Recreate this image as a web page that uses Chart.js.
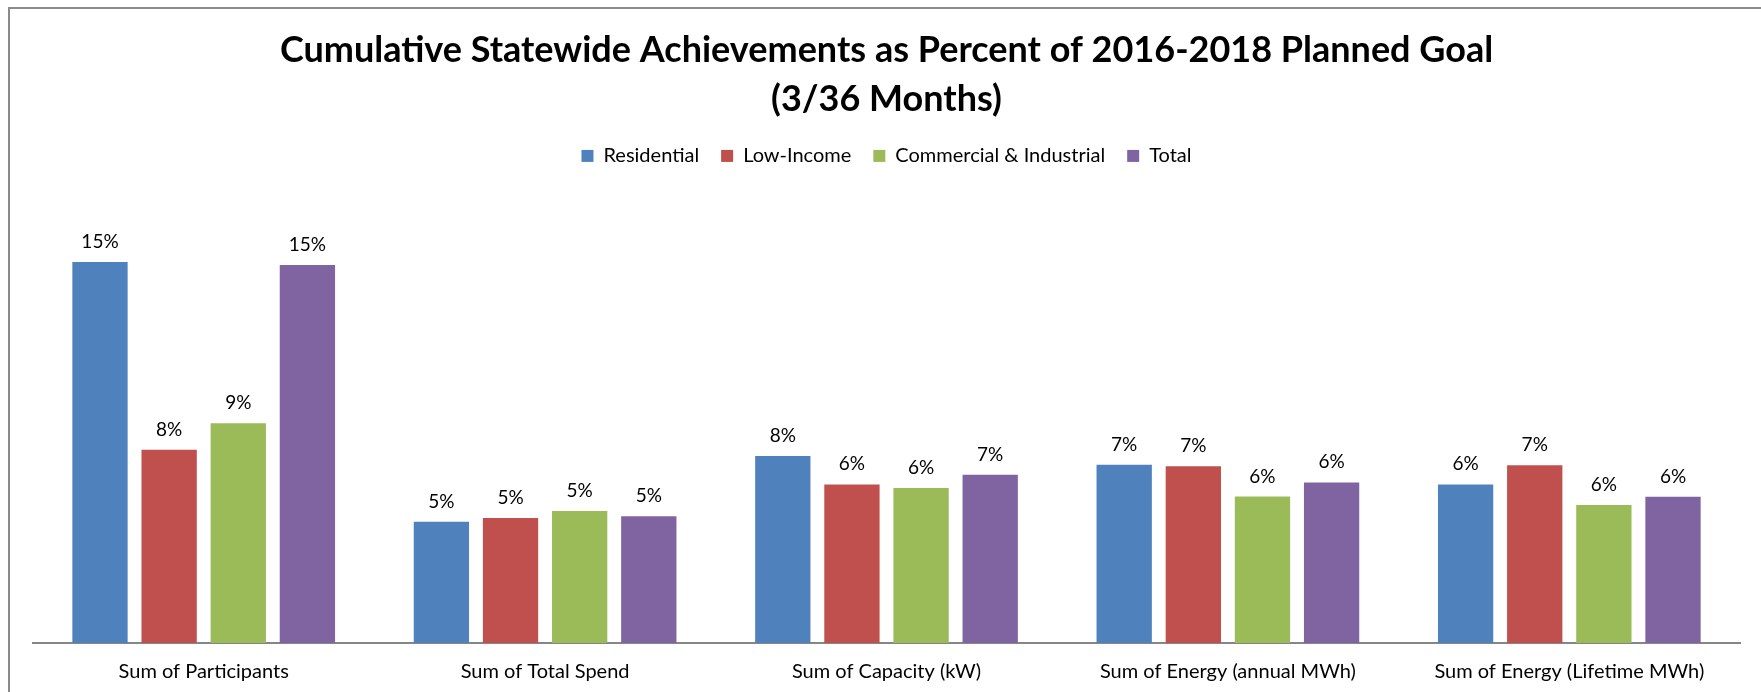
<!DOCTYPE html>
<html>
<head>
<meta charset="utf-8">
<script src="https://cdn.jsdelivr.net/npm/chart.js@4.4.1/dist/chart.umd.min.js"></script>
<style>
  html, body { margin: 0; padding: 0; background: #fff; }
  #wrap { width: 1761px; height: 692px; position: relative; }
</style>
</head>
<body>
<div id="wrap"><canvas id="chart"></canvas></div>
<script>
// ── Data (percent of planned goal) ─────────────────────────────────────────
const categories  = ['Sum of Participants', 'Sum of Total Spend', 'Sum of Capacity (kW)', 'Sum of Energy (annual MWh)', 'Sum of Energy (Lifetime MWh)']
const seriesNames = ['Residential', 'Low-Income', 'Commercial & Industrial', 'Total']
const residential = [15.38, 4.89, 7.55, 7.19, 6.40]
const lowIncome   = [7.80, 5.04, 6.40, 7.13, 7.17]
const commercial  = [8.87, 5.33, 6.26, 5.91, 5.57]
const total       = [15.25, 5.12, 6.79, 6.48, 5.90]
const colors      = ['#4F81BD', '#C0504D', '#9BBB59', '#8064A2']

Chart.defaults.font.family = 'Lato, "Open Sans", sans-serif'
Chart.defaults.color = '#000'

// ── Plugins ────────────────────────────────────────────────────────────────
const frame = {
  id: 'frame',
  beforeDraw(chart) {
    const ctx = chart.ctx
    ctx.save()
    ctx.strokeStyle = '#8a8a8a'
    ctx.lineWidth = 2
    ctx.beginPath()
    ctx.moveTo(9, chart.height + 5)
    ctx.lineTo(9, 8)
    ctx.lineTo(chart.width + 5, 8)
    ctx.stroke()
    ctx.restore()
  }
}

const valueLabels = {
  id: 'valueLabels',
  afterDatasetsDraw(chart) {
    const ctx = chart.ctx
    ctx.save()
    ctx.font = '19px Lato, "Open Sans", sans-serif'
    ctx.fillStyle = '#000'
    ctx.textAlign = 'center'
    ctx.textBaseline = 'alphabetic'
    chart.data.datasets.forEach((ds, i) => {
      chart.getDatasetMeta(i).data.forEach((bar, j) => {
        ctx.fillText(Math.round(ds.data[j]) + '%', bar.x, bar.y - 14)
      })
    })
    ctx.restore()
  }
}

// ── Chart ──────────────────────────────────────────────────────────────────
const seriesData = [residential, lowIncome, commercial, total]

new Chart(document.getElementById('chart'), {
  type: 'bar',
  data: {
    labels: categories,
    datasets: seriesNames.map((name, i) => ({
      label: name,
      data: seriesData[i],
      backgroundColor: colors[i],
      categoryPercentage: 0.81,
      barPercentage: 0.80
    }))
  },
  options: {
    responsive: true,
    maintainAspectRatio: false,
    animation: false,
    layout: { padding: { left: 33, right: 21, top: 10, bottom: 0 } },
    plugins: {
      title: {
        display: true,
        text: ['Cumulative Statewide Achievements as Percent of 2016-2018 Planned Goal', '(3/36 Months)'],
        font: { size: 36, weight: 'bold', lineHeight: 1.36 },
        color: '#000',
        padding: { top: 16, bottom: 0 }
      },
      legend: {
        position: 'top',
        labels: { boxWidth: 12, boxHeight: 12, font: { size: 20 }, color: '#000', padding: 22 }
      },
      tooltip: { enabled: false }
    },
    scales: {
      x: {
        grid: { display: false, drawTicks: false },
        border: { display: true, color: '#868686', width: 2 },
        ticks: { font: { size: 20 }, color: '#000', padding: 17 },
        afterFit(scale) { scale.height = 49 }
      },
      y: { display: false, min: 0, max: 18.85 }
    }
  },
  plugins: [frame, valueLabels]
})
</script>
</body>
</html>
